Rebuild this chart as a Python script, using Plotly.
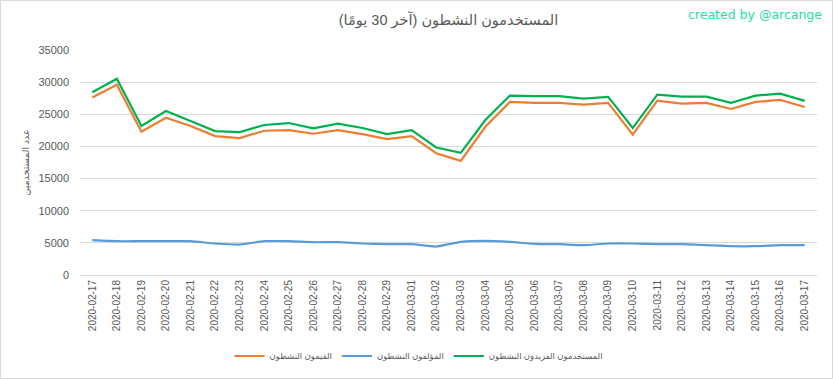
import plotly.graph_objects as go

dates = ["2020-02-17","2020-02-18","2020-02-19","2020-02-20","2020-02-21","2020-02-22",
         "2020-02-23","2020-02-24","2020-02-25","2020-02-26","2020-02-27","2020-02-28",
         "2020-02-29","2020-03-01","2020-03-02","2020-03-03","2020-03-04","2020-03-05",
         "2020-03-06","2020-03-07","2020-03-08","2020-03-09","2020-03-10","2020-03-11",
         "2020-03-12","2020-03-13","2020-03-14","2020-03-15","2020-03-16","2020-03-17"]

curators = [27600, 29580, 22280, 24470, 23170, 21610, 21300, 22440, 22550, 21970,
            22550, 21920, 21140, 21610, 18950, 17750, 23060, 26920, 26770, 26770,
            26500, 26770, 21820, 27130, 26660, 26770, 25830, 26920, 27230, 26140]

authors = [5410, 5260, 5260, 5260, 5260, 4900, 4740, 5260, 5260, 5100,
           5100, 4900, 4790, 4790, 4430, 5150, 5310, 5150, 4850, 4790,
           4640, 4900, 4900, 4790, 4790, 4640, 4480, 4480, 4640, 4640]

unique_users = [28440, 30516, 23170, 25516, 23950, 22390, 22230, 23330, 23640, 22810,
                23530, 22860, 21920, 22550, 19840, 19000, 24110, 27910, 27810, 27810,
                27440, 27700, 22860, 28060, 27750, 27750, 26770, 27910, 28220, 27080]

y_ticks = [0, 5000, 10000, 15000, 20000, 25000, 30000, 35000]

FONT = "Liberation Sans, Arial, DejaVu Sans, sans-serif"
GRAY = "#595959"

fig = go.Figure()
fig.add_trace(go.Scatter(x=dates, y=curators, mode="lines", name="القيمون النشطون",
                         line=dict(color="#ED7D31", width=2.2)))
fig.add_trace(go.Scatter(x=dates, y=authors, mode="lines", name="المؤلفون النشطون",
                         line=dict(color="#5B9BD5", width=2.2, shape="spline", smoothing=0.6)))
fig.add_trace(go.Scatter(x=dates, y=unique_users, mode="lines", name="المستخدمون الفريدون النشطون",
                         line=dict(color="#00B050", width=2.2)))

L, R, T, B = 80, 16, 50, 104
W, H = 833, 379
pw, ph = W - L - R, H - T - B

fig.update_layout(
    width=W, height=H,
    margin=dict(l=L, r=R, t=T, b=B, autoexpand=False),
    paper_bgcolor="white", plot_bgcolor="white",
    font=dict(family=FONT, color=GRAY, size=11),
    title=dict(text="المستخدمون النشطون (آخر 30 يومًا)", x=0.5, xref="paper", xanchor="center",
               y=1 - 20 / H, yanchor="middle",
               font=dict(size=14.5, color=GRAY, family=FONT)),
    showlegend=True,
    legend=dict(orientation="h", x=0.5 - (L - R) / 2 / pw + 2 / pw, xanchor="center",
                y=-(356 - T - ph) / ph, yanchor="middle",
                font=dict(size=8.5, color=GRAY), traceorder="normal",
                itemwidth=30, bgcolor="rgba(0,0,0,0)"),
    xaxis=dict(type="category", range=[-0.5, len(dates) - 0.5], tickangle=-90,
               showgrid=False, showline=True,
               linecolor="#d9d9d9", ticks="", tickfont=dict(size=10, color=GRAY),
               automargin=False, fixedrange=True),
    yaxis=dict(range=[0, 35000], tickvals=y_ticks, ticktext=[str(v) for v in y_ticks],
               showgrid=True, gridcolor="#d9d9d9", gridwidth=1, zeroline=False,
               ticks="", ticklabelstandoff=10, tickfont=dict(size=11, color=GRAY),
               automargin=False,
               title=dict(text="عدد المستخدمين", font=dict(size=9.5, color=GRAY), standoff=7)),
    shapes=[dict(type="rect", xref="paper", yref="paper",
                 x0=(-L + 0.5) / pw, x1=1 + (R - 0.5) / pw,
                 y0=(-B + 0.5) / ph, y1=1 + (T - 0.5) / ph,
                 line=dict(color="#d9d9d9", width=1), fillcolor="rgba(0,0,0,0)")],
    annotations=[dict(text="created by @arcange", xref="paper", yref="paper",
                      x=1 + (R - 9) / pw, xanchor="right", y=1 + (T - 14) / ph, yanchor="middle",
                      showarrow=False, font=dict(size=12.5, color="#20e0a8", family="DejaVu Sans, sans-serif"))],
)

fig.write_html("out.html", config={"displayModeBar": False},
               post_script="document.body.style.margin='0';document.body.style.overflow='hidden';")
